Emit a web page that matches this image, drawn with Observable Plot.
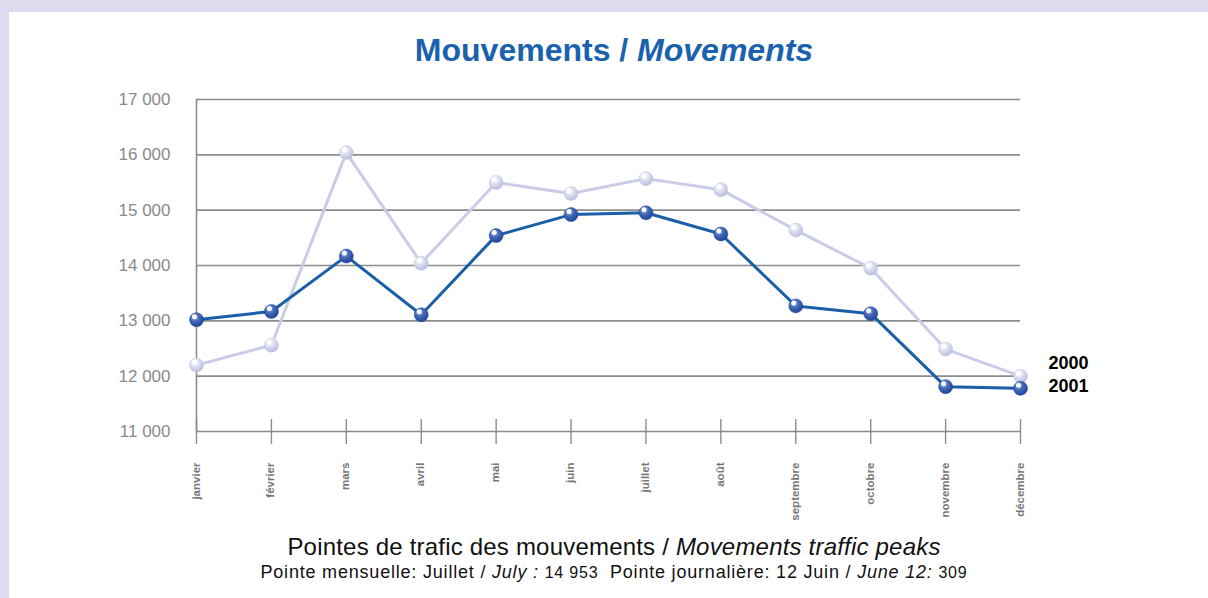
<!DOCTYPE html>
<html>
<head>
<meta charset="utf-8">
<script src="https://cdn.jsdelivr.net/npm/d3@7"></script>
<script src="https://cdn.jsdelivr.net/npm/@observablehq/plot@0.6"></script>
<style>
  html, body { margin: 0; padding: 0; }
  body { width: 1208px; height: 598px; background: #dcdcee; position: relative; overflow: hidden; font-family: "Liberation Sans", Arial, sans-serif; }
  #panel { position: absolute; left: 9px; top: 12px; right: 0; bottom: 0; background: #ffffff; }
  #title { position: absolute; left: 0; width: 1228px; top: 30px; text-align: center; color: #1a62ad; font-weight: bold; font-size: 32px; line-height: 40px; }
  #chart { position: absolute; left: 0; top: 80px; }
  #foot1 { position: absolute; left: 0; width: 1228px; top: 533px; text-align: center; color: #111; font-size: 24px; line-height: 28px; letter-spacing: 0.2px; }
  #foot2 { position: absolute; left: 0; width: 1228px; top: 562px; text-align: center; color: #111; font-size: 18px; line-height: 20px; letter-spacing: 0.8px; }
  .num { font-size: 16px; }
</style>
</head>
<body>
<svg width="0" height="0" style="position:absolute">
  <defs>
    <radialGradient id="g2001" cx="38%" cy="32%" r="70%">
      <stop offset="0%" stop-color="#9fb3e6"/>
      <stop offset="45%" stop-color="#4468b8"/>
      <stop offset="100%" stop-color="#1d4596"/>
    </radialGradient>
    <radialGradient id="g2000" cx="38%" cy="32%" r="70%">
      <stop offset="0%" stop-color="#ffffff"/>
      <stop offset="50%" stop-color="#d8dbef"/>
      <stop offset="100%" stop-color="#b7bcdd"/>
    </radialGradient>
  </defs>
</svg>
<div id="panel"></div>
<div id="title">Mouvements / <i>Movements</i></div>
<div id="chart"></div>
<div id="foot1">Pointes de trafic des mouvements / <i>Movements traffic peaks</i></div>
<div id="foot2">Pointe mensuelle: Juillet / <i>July :</i> <span class="num">14 953</span>&nbsp; Pointe journalière: 12 Juin / <i>June 12:</i> <span class="num">309</span></div>
<script>
const months = ["janvier","février","mars","avril","mai","juin","juillet","août","septembre","octobre","novembre","décembre"];
const values2000 = [12200, 12560, 16040, 14040, 15500, 15300, 15570, 15370, 14640, 13950, 12490, 12000];
const values2001 = [13020, 13170, 14170, 13110, 14540, 14920, 14953, 14570, 13270, 13130, 11810, 11780];
const yTicks = [11000, 12000, 13000, 14000, 15000, 16000, 17000];
const seriesLabels = ["2000", "2001"];

const data2000 = months.map((m, i) => ({month: m, value: values2000[i]}));
const data2001 = months.map((m, i) => ({month: m, value: values2001[i]}));
const label2000 = [{label: seriesLabels[0], month: months[11], value: values2000[11]}];
const label2001 = [{label: seriesLabels[1], month: months[11], value: values2001[11]}];
const fmt = d => `${Math.floor(d / 1000)} ${String(d % 1000).padStart(3, "0")}`;
const labelFont = {textAnchor: "start", fill: "black", fontWeight: "bold", fontSize: 18, fontFamily: "Liberation Sans, sans-serif"};

const chart = Plot.plot({
  width: 1208,
  height: 450,
  marginTop: 19,
  marginBottom: 99,
  marginLeft: 196,
  marginRight: 188,
  x: {type: "point", domain: months, padding: 0, round: false, axis: null},
  y: {domain: [11000, 17000], axis: null},
  style: {background: "transparent", overflow: "visible"},
  marks: [
    Plot.ruleY(yTicks, {stroke: "#8c8c8c", strokeWidth: 1.6}),
    Plot.ruleX([months[0]], {stroke: "#8c8c8c", strokeWidth: 1.6}),
    Plot.ruleX(months, {y1: 11000, y2: 11000, insetTop: -12, insetBottom: -13, stroke: "#8c8c8c", strokeWidth: 1.4}),
    Plot.text(yTicks, {y: d => d, frameAnchor: "left", dx: -26, textAnchor: "end", text: fmt, fill: "#8a8a8a", fontSize: 17, fontFamily: "Liberation Sans, sans-serif"}),
    Plot.text(months, {x: d => d, frameAnchor: "bottom", dy: 31, dx: 3, rotate: -90, textAnchor: "end", fill: "#767676", fontWeight: "bold", fontSize: 11.5, fontFamily: "Liberation Sans, sans-serif"}),
    Plot.line(data2000, {x: "month", y: "value", stroke: "#c9cce6", strokeWidth: 3}),
    Plot.line(data2001, {x: "month", y: "value", stroke: "#1a5fa8", strokeWidth: 3}),
    Plot.dot(data2000, {x: "month", y: "value", r: 7, fill: "url(#g2000)", stroke: "#c3c7e2", strokeWidth: 0.5}),
    Plot.dot(data2000, {x: "month", y: "value", r: 2.5, fill: "white", dx: -2, dy: -3}),
    Plot.dot(data2001, {x: "month", y: "value", r: 7, fill: "url(#g2001)", stroke: "#1d4596", strokeWidth: 0.5}),
    Plot.dot(data2001, {x: "month", y: "value", r: 2.5, fill: "white", dx: -2, dy: -3}),
    Plot.text(label2000, {x: "month", y: "value", text: "label", dx: 28, dy: -13, ...labelFont}),
    Plot.text(label2001, {x: "month", y: "value", text: "label", dx: 28, dy: -2, ...labelFont})
  ]
});
document.getElementById("chart").appendChild(chart);
</script>
</body>
</html>
